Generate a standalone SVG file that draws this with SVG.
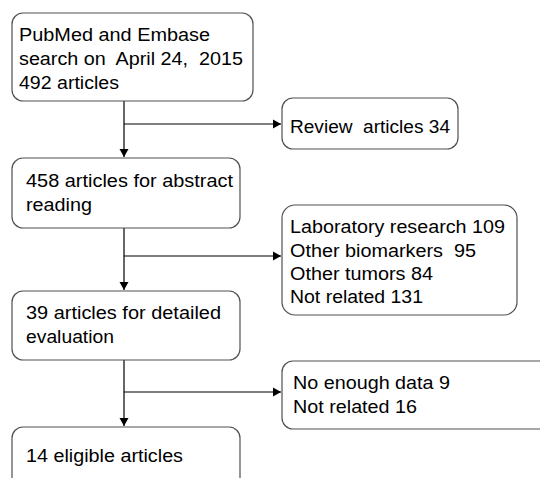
<svg xmlns="http://www.w3.org/2000/svg" width="540" height="478" viewBox="0 0 540 478">
<defs>
<marker id="ah" markerWidth="10" markerHeight="10" refX="8" refY="5" orient="auto" markerUnits="userSpaceOnUse">
<path d="M0,0.5 L8,5 L0,9.5 Z" fill="#000"/>
</marker>
<style>
.box{fill:#fff;stroke:#505050;stroke-width:1.2}
.t{font-family:"Liberation Sans",Arial,sans-serif;font-size:17.5px;fill:#000;white-space:pre}
.c{stroke:#000;stroke-width:1.2;fill:none}
</style>
</defs>
<rect width="540" height="478" fill="#fff"/>
<g id="connectors">
<path class="c" d="M124,101 V157" marker-end="url(#ah)"/>
<path class="c" d="M124,124 H281" marker-end="url(#ah)"/>
<path class="c" d="M124,228 V290" marker-end="url(#ah)"/>
<path class="c" d="M124,256 H281" marker-end="url(#ah)"/>
<path class="c" d="M124,360 V426" marker-end="url(#ah)"/>
<path class="c" d="M124,392 H281" marker-end="url(#ah)"/>
</g>
<g id="n1">
<rect class="box" x="12" y="13" width="241" height="88" rx="11"/>
<text class="t" x="19" y="41" textLength="191" lengthAdjust="spacingAndGlyphs">PubMed and Embase</text>
<text class="t" x="19" y="65" textLength="224" lengthAdjust="spacingAndGlyphs">search on  April 24,  2015</text>
<text class="t" x="19" y="89" textLength="100" lengthAdjust="spacingAndGlyphs">492 articles</text>
</g>
<g id="n2">
<rect class="box" x="282" y="98" width="176" height="51" rx="11"/>
<text class="t" x="290" y="133" textLength="160" lengthAdjust="spacingAndGlyphs">Review  articles 34</text>
</g>
<g id="n3">
<rect class="box" x="12" y="158" width="228" height="70" rx="11"/>
<text class="t" x="26" y="187" textLength="207" lengthAdjust="spacingAndGlyphs">458 articles for abstract</text>
<text class="t" x="26" y="211" textLength="66" lengthAdjust="spacingAndGlyphs">reading</text>
</g>
<g id="n4">
<rect class="box" x="282" y="205" width="235" height="110" rx="13"/>
<text class="t" x="290" y="233" textLength="215" lengthAdjust="spacingAndGlyphs">Laboratory research 109</text>
<text class="t" x="290" y="257" textLength="186" lengthAdjust="spacingAndGlyphs">Other biomarkers  95</text>
<text class="t" x="290" y="280" textLength="143" lengthAdjust="spacingAndGlyphs">Other tumors 84</text>
<text class="t" x="290" y="303" textLength="133" lengthAdjust="spacingAndGlyphs">Not related 131</text>
</g>
<g id="n5">
<rect class="box" x="12" y="291" width="228" height="69" rx="11"/>
<text class="t" x="26" y="319" textLength="195" lengthAdjust="spacingAndGlyphs">39 articles for detailed</text>
<text class="t" x="26" y="343" textLength="88" lengthAdjust="spacingAndGlyphs">evaluation</text>
</g>
<g id="n6">
<rect class="box" x="282" y="361" width="270" height="68" rx="11"/>
<text class="t" x="293" y="389" textLength="157" lengthAdjust="spacingAndGlyphs">No enough data 9</text>
<text class="t" x="293" y="413" textLength="124" lengthAdjust="spacingAndGlyphs">Not related 16</text>
</g>
<g id="n7">
<rect class="box" x="12" y="427" width="228" height="70" rx="11"/>
<text class="t" x="26" y="462" textLength="157" lengthAdjust="spacingAndGlyphs">14 eligible articles</text>
</g>
</svg>
